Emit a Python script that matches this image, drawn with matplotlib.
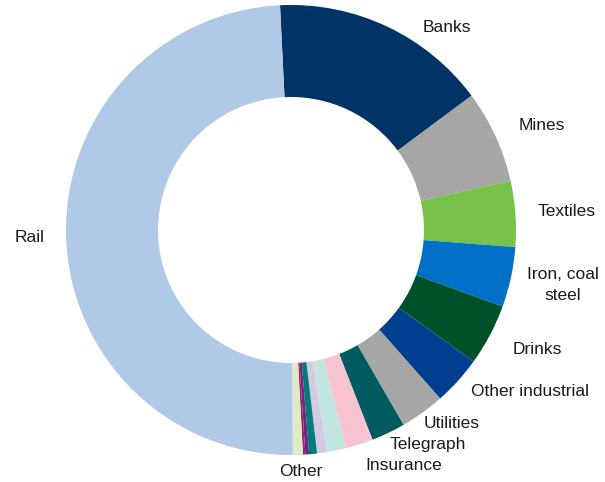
import matplotlib.pyplot as plt

# Share of capital by sector, clockwise from the top
sectors = ["Banks", "Mines", "Textiles", "Iron, coal\nsteel", "Drinks",
           "Other industrial", "Utilities", "Telegraph", "Insurance",
           "Shipping", "Canals", "Docks", "Gas", "Water", "Other", "Rail"]
shares = [15.6, 6.67, 4.72, 4.31, 4.42, 3.53, 3.19, 2.44, 1.97,
          1.36, 0.72, 0.56, 0.27, 0.17, 0.72, 49.35]
colors = ["#003366", "#a6a6a6", "#78c14b", "#0070c8", "#00502a",
          "#003f8f", "#a6a6a6", "#005a5f", "#f7c3d0",
          "#c2e5e1", "#d3cae3", "#007b7b", "#6b2a80", "#a0206a", "#dfeac4", "#b0c9e7"]

# label anchor points (pixels from top-left)
label_xy = {
    "Banks": (447, 28), "Mines": (542, 125), "Textiles": (567, 212),
    "Iron, coal\nsteel": (563, 285), "Drinks": (537, 350),
    "Other industrial": (530, 391), "Utilities": (452, 424),
    "Telegraph": (428, 445), "Insurance": (404, 465),
    "Other": (301, 472), "Rail": (30, 238),
}

W, H = 605, 482
fig = plt.figure(figsize=(W / 100, H / 100), dpi=100)
ax = fig.add_axes([0, 0, 1, 1])

ax.pie(shares, colors=colors, center=(291, H - 230), radius=225,
       startangle=92.8, counterclock=False,
       wedgeprops=dict(width=92, linewidth=0), frame=True)
ax.set_xlim(0, W)
ax.set_ylim(0, H)
ax.set_aspect("equal")
ax.axis("off")

for name, (x, y) in label_xy.items():
    ax.text(x, H - y, name, ha="center", va="center", fontsize=12.5,
            family="Liberation Sans", color="#1a1a1a", linespacing=1.45)

fig.savefig("out.png", dpi=100)
